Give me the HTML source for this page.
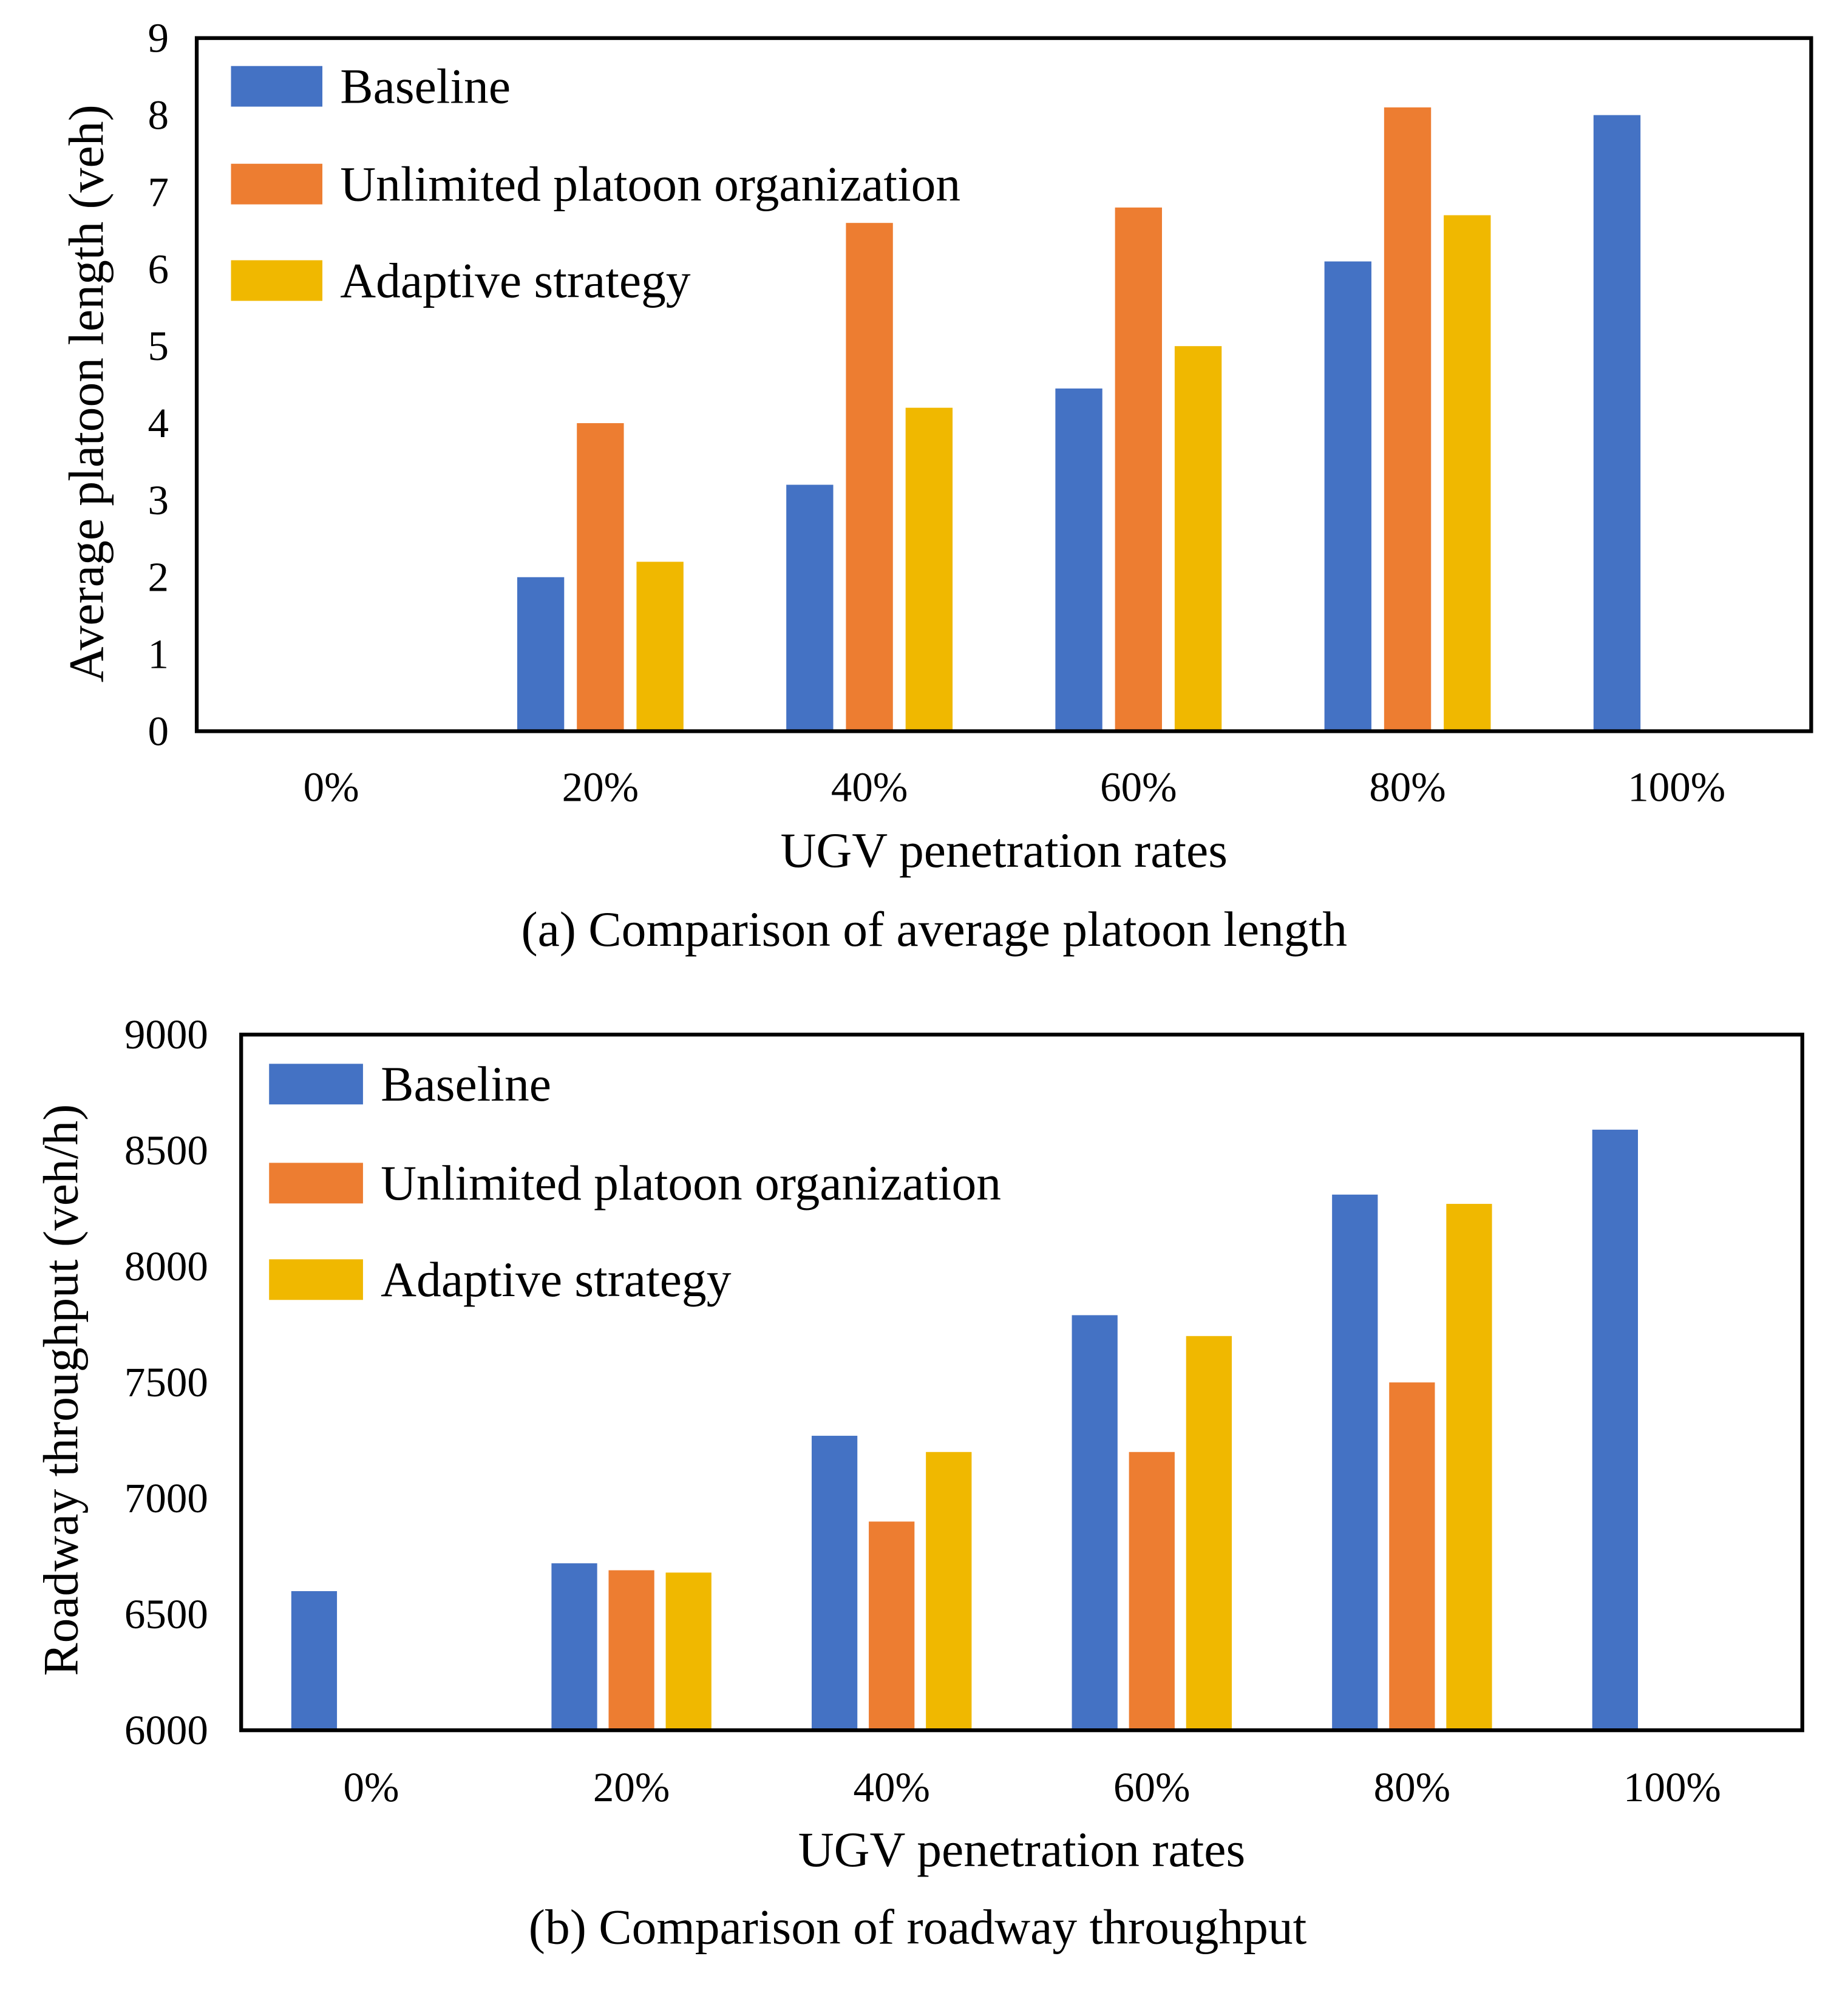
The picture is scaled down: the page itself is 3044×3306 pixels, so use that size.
<!DOCTYPE html>
<html><head><meta charset="utf-8"><style>
html,body{margin:0;padding:0;background:#fff}
svg{display:block;font-family:"Liberation Serif",serif}
</style></head><body>
<svg id="svg" width="3044" height="3306" viewBox="0 0 1456 1581" preserveAspectRatio="none" xmlns="http://www.w3.org/2000/svg">
<g id="ca"></g>
<g id="cb"></g>
</svg>
<script>
const categories = ["0%","20%","40%","60%","80%","100%"];
const seriesNames = ["Baseline","Unlimited platoon organization","Adaptive  strategy"];
const colors = ["#4472C4","#ED7D31","#F0B800"];
const lenBaseline = [0,2,3.2,4.45,6.1,8];
const lenUnlimited = [0,4,6.6,6.8,8.1,0];
const lenAdaptive = [0,2.2,4.2,5,6.7,0];
const lenTicks = [0,1,2,3,4,5,6,7,8,9];
const thrBaseline = [6600,6720,7270,7790,8310,8590];
const thrUnlimited = [6000,6690,6900,7200,7500,6000];
const thrAdaptive = [6000,6680,7200,7700,8270,6000];
const thrTicks = [6000,6500,7000,7500,8000,8500,9000];
const NS="http://www.w3.org/2000/svg";
function mk(parent,tag,attrs,text){const e=document.createElementNS(NS,tag);for(const k in attrs)e.setAttribute(k,attrs[k]);if(text!==undefined)e.textContent=text;parent.appendChild(e);return e;}
function draw(g,cfg){
  const {L,T,R,B,min,max,ticks,series,tickX,off,bw,legX,legY,legText,xlY,xtY,capY,ytX,ytY,yTitle,caption}=cfg;
  const y=v=>B-(v-min)/(max-min)*(B-T);
  const step=(R-L)/categories.length;
  const xc=i=>L+step*(i+0.5);
  ticks.forEach(t=>{
    const e=mk(g,'text',{x:tickX,y:y(t)+11,'text-anchor':'end','font-size':33,fill:'#000'},String(t));
    
    
  });
  series.forEach((vals,s)=>{
    vals.forEach((v,i)=>{
      const x=xc(i)+(s-1)*off-bw/2;
      const r=mk(g,'rect',{x:x,y:y(v),width:bw,height:Math.max(0,B-y(v)),fill:colors[s]});
      
      
    });
  });
  const box=mk(g,'rect',{x:L,y:T,width:R-L,height:B-T,fill:'none',stroke:'#000','stroke-width':3});
  
  
  categories.forEach((c,i)=>{
    const e=mk(g,'text',{x:xc(i),y:xlY,'text-anchor':'middle','font-size':33,fill:'#000'},c);
    
    
  });
  seriesNames.forEach((n,s)=>{
    const sw=mk(g,'rect',{x:legX,y:legY[s],width:legText-legX-14,height:32,fill:colors[s]});
    
    
    const t=mk(g,'text',{x:legText,y:legY[s]+29,'font-size':39,fill:'#000','xml:space':'preserve'},n);
    
    
  });
  const xt=mk(g,'text',{x:(L+R)/2,y:xtY,'text-anchor':'middle','font-size':39,fill:'#000'},'UGV penetration rates');
  
  
  const cp=mk(g,'text',{x:cfg.capX,y:capY,'text-anchor':'middle','font-size':39,fill:'#000','xml:space':'preserve'},caption);
  
  
  const yt=mk(g,'text',{x:0,y:0,'text-anchor':'middle','font-size':39,fill:'#000',transform:`translate(${ytX},${ytY}) rotate(-90)`,'xml:space':'preserve'},yTitle);
  
  
}
draw(document.getElementById('ca'),{L:155,T:30,R:1427,B:576,min:0,max:9,ticks:lenTicks,
  series:[lenBaseline,lenUnlimited,lenAdaptive],tickX:133,off:47,bw:37,legX:182,legY:[52,129,205],legText:268,
  xlY:631,xtY:683,capY:745,capX:736,ytX:81,ytY:310,yTitle:'Average  platoon length (veh)',caption:'(a) Comparison of average  platoon length'});
draw(document.getElementById('cb'),{L:190,T:815,R:1420,B:1363,min:6000,max:9000,ticks:thrTicks,
  series:[thrBaseline,thrUnlimited,thrAdaptive],tickX:164,off:45,bw:36,legX:212,legY:[838,916,992],legText:300,
  xlY:1419,xtY:1470,capY:1531,capX:723,ytX:61,ytY:1095,yTitle:'Roadway throughput (veh/h)',caption:'(b) Comparison of roadway  throughput'});
</script>
</body></html>
